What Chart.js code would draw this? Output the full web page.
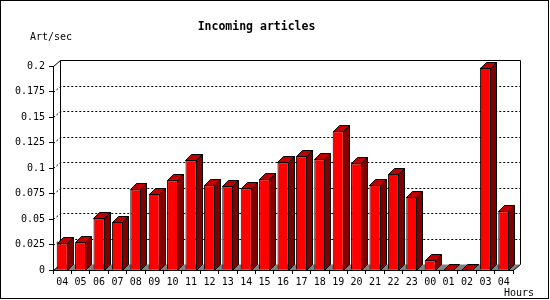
<!DOCTYPE html>
<html>
<head>
<meta charset="utf-8">
<script src="https://cdn.jsdelivr.net/npm/chart.js@4/dist/chart.umd.min.js"></script>
<style>
    html, body { margin: 0; padding: 0; background: #fff; }
    canvas { display: block; }
</style>
</head>
<body>
<canvas id="chart" width="550" height="300"></canvas>
<script>
const hours = ["04", "05", "06", "07", "08", "09", "10", "11", "12", "13", "14", "15",
    "16", "17", "18", "19", "20", "21", "22", "23", "00", "01", "02", "03", "04"];
const artPerSec = [0.026, 0.027, 0.0505, 0.047, 0.079, 0.075, 0.088, 0.1075, 0.083, 0.082,
    0.080, 0.089, 0.1055, 0.1115, 0.1085, 0.136, 0.1045, 0.0835, 0.094, 0.072,
    0.0095, 0, 0, 0.1985, 0.0575];
const yTickLabels = ["0", "0.025", "0.05", "0.075", "0.1", "0.125", "0.15", "0.175", "0.2"];

const FONT = "'DejaVu Sans Mono', monospace";
const DX = 7, DY = 6;     // depth of the back plane
const BD = 6;             // depth of each bar

function poly(ctx, pts, fill) {
    ctx.beginPath();
    pts.forEach(([x, y], i) => (i ? ctx.lineTo(x, y) : ctx.moveTo(x, y)));
    ctx.closePath();
    if (fill) {
        ctx.fillStyle = fill;
        ctx.fill();
    }
    ctx.stroke();
}

const box3d = {
    id: "box3d",
    beforeDraw(chart) {
        const ctx = chart.ctx;
        ctx.save();
        ctx.fillStyle = "#fff";
        ctx.fillRect(0, 0, chart.width, chart.height);
        ctx.restore();
    },
    beforeDatasetsDraw(chart) {
        const { ctx, chartArea, scales } = chart;
        const l = chartArea.left + 0.5, r = chartArea.right + 0.5;
        const t = chartArea.top + 0.5, b = chartArea.bottom + 0.5;
        ctx.save();
        ctx.lineWidth = 1;
        ctx.strokeStyle = "#000";

        // dotted grid lines running back from the front axis
        ctx.setLineDash([2, 2]);
        scales.y.ticks.forEach((tick) => {
            if (tick.value <= 0 || tick.value >= scales.y.max) return;
            const py = Math.round(scales.y.getPixelForValue(tick.value)) + 0.5;
            ctx.beginPath();
            ctx.moveTo(l, py);
            ctx.lineTo(l + DX, py - DY);
            ctx.lineTo(r + DX, py - DY);
            ctx.stroke();
        });
        ctx.setLineDash([]);

        // back frame
        ctx.beginPath();
        ctx.moveTo(l, t);
        ctx.lineTo(l + DX, t - DY);
        ctx.lineTo(r + DX, t - DY);
        ctx.lineTo(r + DX, b - DY);
        ctx.moveTo(l + DX, t - DY);
        ctx.lineTo(l + DX, b - DY);
        ctx.stroke();

        // floor
        ctx.fillStyle = "#808080";
        ctx.beginPath();
        ctx.moveTo(l, b);
        ctx.lineTo(l + DX, b - DY);
        ctx.lineTo(r + DX, b - DY);
        ctx.lineTo(r, b);
        ctx.closePath();
        ctx.fill();
        ctx.beginPath();
        ctx.moveTo(l, b);
        ctx.lineTo(l + DX, b - DY);
        ctx.moveTo(r + DX, b - DY);
        ctx.lineTo(r, b);
        ctx.lineTo(l, b);
        ctx.stroke();
        ctx.restore();
    },
    afterDatasetsDraw(chart) {
        const ctx = chart.ctx;
        ctx.save();
        ctx.lineWidth = 1;
        ctx.strokeStyle = "#000";
        chart.getDatasetMeta(0).data.forEach((bar) => {
            const { x, y, base, width } = bar.getProps(["x", "y", "base", "width"], true);
            const xl = Math.round(x - width / 2) + 0.5;
            const xr = Math.round(x + width / 2) - 0.5;
            const yt = Math.round(y) + 0.5;
            const yb = Math.round(base) + 0.5;
            if (yb - yt < 1) {
                poly(ctx, [[xl, yt], [xr, yt]], null);
            }
            poly(ctx, [[xr, yt], [xr + BD, yt - BD], [xr + BD, yb - BD], [xr, yb]], "#800000");
            poly(ctx, [[xl, yt], [xl + BD, yt - BD], [xr + BD, yt - BD], [xr, yt]], "#c00000");
        });
        ctx.restore();
    },
    afterDraw(chart) {
        const ctx = chart.ctx;
        ctx.save();
        ctx.fillStyle = "#000";
        ctx.font = `10px ${FONT}`;
        ctx.textBaseline = "middle";
        ctx.textAlign = "left";
        ctx.fillText("Art/sec", 30, 37);
        ctx.fillText("Hours", 504, 293);
        ctx.strokeStyle = "#000";
        ctx.lineWidth = 1;
        ctx.strokeRect(0.5, 0.5, 548, 298);
        ctx.restore();
    },
};

const ctx = document.getElementById("chart").getContext("2d");
new Chart(ctx, {
    type: "bar",
    data: {
        labels: hours,
        datasets: [
            {
                label: "Incoming articles",
                data: artPerSec,
                backgroundColor: "#ff0000",
                borderColor: "#000",
                borderWidth: 1,
                barPercentage: 0.6,
                categoryPercentage: 1,
            },
        ],
    },
    options: {
        responsive: false,
        animation: false,
        devicePixelRatio: 1,
        layout: { padding: { left: 0, top: 0, right: 37, bottom: 0 } },
        scales: {
            x: {
                grid: {
                    offset: true,
                    drawOnChartArea: false,
                    drawTicks: true,
                    tickLength: 4,
                    color: "#000",
                },
                border: { display: true, color: "#000" },
                ticks: {
                    color: "#000",
                    font: { family: FONT, size: 10 },
                    padding: 2,
                    maxRotation: 0,
                    autoSkip: false,
                },
                afterFit: (scale) => { scale.height = 30; },
            },
            y: {
                min: 0,
                max: 0.2,
                grid: {
                    drawOnChartArea: false,
                    drawTicks: true,
                    tickLength: 4,
                    color: "#000",
                },
                border: { display: true, color: "#000" },
                ticks: {
                    stepSize: 0.025,
                    color: "#000",
                    font: { family: FONT, size: 10 },
                    padding: 4,
                    callback: (value, index) => yTickLabels[index],
                },
                afterFit: (scale) => { scale.width = 53; },
            },
        },
        plugins: {
            legend: { display: false },
            tooltip: { enabled: false },
            title: {
                display: true,
                text: "Incoming articles",
                color: "#000",
                font: { family: FONT, size: 11.5, weight: "bold", lineHeight: 1.2 },
                padding: { top: 20, bottom: 32.2 },
            },
        },
    },
    plugins: [box3d],
});
</script>
</body>
</html>
